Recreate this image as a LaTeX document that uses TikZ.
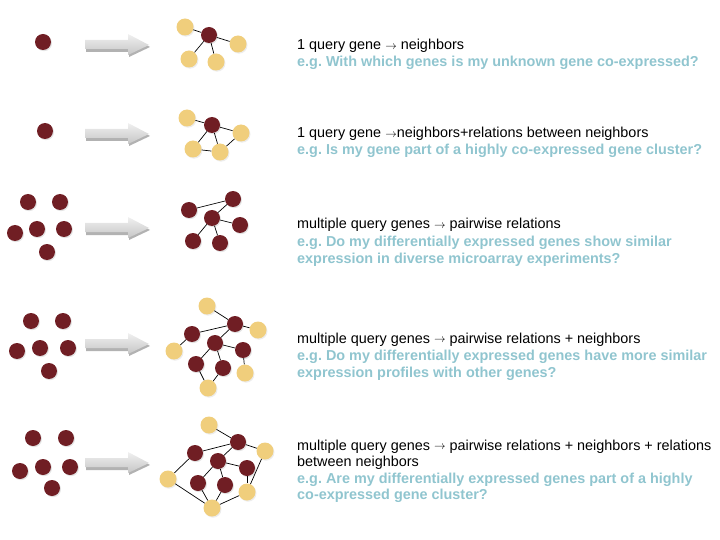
\documentclass[tikz,border=0pt]{standalone}
\usepackage{fontspec}
\setmainfont{Liberation Sans}
\usepackage{tikz}
\usetikzlibrary{
	arrows.meta,
	calc,
	shadows,
	positioning
}
\definecolor{GeneRed}{RGB}{112,30,36}
\definecolor{GeneYellow}{RGB}{240,206,124}
\definecolor{QBlue}{RGB}{144,197,207}

\tikzset{
	query/.style={circle, fill=GeneRed, minimum size=16pt, inner sep=0pt,
		drop shadow={opacity=0.22, shadow xshift=1pt, shadow yshift=-1.2pt}},
	nbr/.style={circle, fill=GeneYellow, minimum size=17pt, inner sep=0pt,
		drop shadow={opacity=0.15, shadow xshift=1pt, shadow yshift=-1.2pt}},
	link/.style={black, line width=0.7pt},
	mainline/.style={anchor=base west, inner sep=0pt, font=\fontsize{14.4}{17}\selectfont},
	example/.style={mainline, text=QBlue, font=\fontsize{14.4}{17}\selectfont\bfseries}
}
\newcommand{\smallto}{\raisebox{0.1ex}{\scalebox{0.8}{$\rightarrow$}}}
\frenchspacing

\begin{document}
\begin{tikzpicture}[x=1pt, y=-1pt]
	\useasboundingbox (0,0) rectangle (720,540);
	
	% grey arrows
	\foreach \y in {45,134,228,344,463} {
		\fill[gray!60] (86,{\y-3}) -- (129,{\y-3}) -- (129,{\y-9}) -- (150,{\y+2}) -- (129,{\y+12}) -- (129,{\y+7}) -- (86,{\y+7}) -- cycle;
		\shade[top color=gray!12, bottom color=gray!45] (85,{\y-5}) -- (128,{\y-5}) -- (128,{\y-11}) -- (149,{\y}) -- (128,{\y+10}) -- (128,{\y+4}) -- (85,{\y+4}) -- cycle;
	}
	
	% row 1
	\node[query] (a0) at (43,42) {};
	\node[query] (a1) at (209,35) {};
	\node[nbr] (a2) at (185,27) {};
	\node[nbr] (a3) at (238,44) {};
	\node[nbr] (a4) at (189,59) {};
	\node[nbr] (a5) at (216,62) {};
	\foreach \n in {a2,a3,a4,a5} \draw[link] (a1) -- (\n);
	
	% row 2
	\node[query] (b0) at (45,131) {};
	\node[query] (b1) at (212,125) {};
	\node[nbr] (b2) at (187,118) {};
	\node[nbr] (b3) at (241,133) {};
	\node[nbr] (b4) at (193,149) {};
	\node[nbr] (b5) at (220,152) {};
	\foreach \n in {b2,b3,b4,b5} \draw[link] (b1) -- (\n);
	\draw[link] (b3) -- (b5);
	\draw[link] (b4) -- (b5);
	
	% row 3
	\node[query] (c01) at (28,202) {};
	\node[query] (c02) at (60,202) {};
	\node[query] (c03) at (15,233) {};
	\node[query] (c04) at (37,229) {};
	\node[query] (c05) at (64,229) {};
	\node[query] (c06) at (47,252) {};
	\node[query] (c1) at (189,210) {};
	\node[query] (c2) at (233,199) {};
	\node[query] (c3) at (212,218) {};
	\node[query] (c4) at (240,225) {};
	\node[query] (c5) at (193,241) {};
	\node[query] (c6) at (220,243) {};
	\draw[link] (c1) -- (c2);
	\draw[link] (c2) -- (c3);
	\foreach \n in {c4,c5,c6} \draw[link] (c3) -- (\n);
	
	% row 4
	\node[query] (d01) at (31,321) {};
	\node[query] (d02) at (63,321) {};
	\node[query] (d03) at (17,351) {};
	\node[query] (d04) at (40,348) {};
	\node[query] (d05) at (68,348) {};
	\node[query] (d06) at (49,371) {};
	\node[nbr] (d7) at (207,306) {};
	\node[query] (d1) at (235,324) {};
	\node[nbr] (d8) at (258,330) {};
	\node[query] (d2) at (192,334) {};
	\node[query] (d3) at (215,343) {};
	\node[nbr] (d9) at (174,351) {};
	\node[query] (d4) at (243,350) {};
	\node[query] (d5) at (196,364) {};
	\node[query] (d6) at (223,368) {};
	\node[nbr] (d10) at (245,373) {};
	\node[nbr] (d11) at (208,388) {};
	\draw[link] (d7) -- (d1);
	\draw[link] (d1) -- (d8);
	\draw[link] (d2) -- (d1);
	\draw[link] (d1) -- (d3);
	\draw[link] (d2) -- (d9);
	\foreach \n in {d4,d5,d6} \draw[link] (d3) -- (\n);
	\draw[link] (d4) -- (d10);
	\draw[link] (d5) -- (d11);
	\draw[link] (d6) -- (d11);
	
	% row 5
	\node[query] (e01) at (33,438) {};
	\node[query] (e02) at (66,438) {};
	\node[query] (e03) at (20,471) {};
	\node[query] (e04) at (43,467) {};
	\node[query] (e05) at (70,467) {};
	\node[query] (e06) at (52,488) {};
	\node[nbr] (e7) at (209,425) {};
	\node[query] (e1) at (238,442) {};
	\node[nbr] (e8) at (265,451) {};
	\node[query] (e2) at (195,453) {};
	\node[query] (e3) at (218,461) {};
	\node[nbr] (e9) at (168,479) {};
	\node[query] (e4) at (247,468) {};
	\node[query] (e5) at (198,483) {};
	\node[query] (e6) at (225,485) {};
	\node[nbr] (e10) at (247,492) {};
	\node[nbr] (e11) at (212,508) {};
	\draw[link] (e7) -- (e1);
	\draw[link] (e1) -- (e8);
	\draw[link] (e2) -- (e1);
	\draw[link] (e1) -- (e3);
	\draw[link] (e2) -- (e9);
	\foreach \n in {e4,e5,e6} \draw[link] (e3) -- (\n);
	\draw[link] (e4) -- (e10);
	\draw[link] (e5) -- (e11);
	\draw[link] (e6) -- (e11);
	% neighbor relations
	\draw[link] (e8) -- (e10);
	\draw[link] (e9) -- (e11);
	\draw[link] (e11) -- (e10);
	
	% texts
	\node[mainline] (t1a) at (297,50) {1 query gene \smallto\ neighbors};
	\node[example] (t1b) at (297,67) {e.g. With which genes is my unknown gene co-expressed?};
	\node[mainline] (t2a) at (297,138) {1 query gene \smallto neighbors+relations between neighbors};
	\node[example] (t2b) at (297,155) {e.g. Is my gene part of a highly co-expressed gene cluster?};
	\node[mainline] (t3a) at (297,229) {multiple query genes \smallto\ pairwise relations};
	\node[example] (t3b) at (297,246) {e.g. Do my differentially expressed genes show similar};
	\node[example] (t3c) at (297,263) {expression in diverse microarray experiments?};
	\node[mainline] (t4a) at (297,343) {multiple query genes \smallto\ pairwise relations + neighbors};
	\node[example] (t4b) at (297,360) {e.g. Do my differentially expressed genes have more similar};
	\node[example] (t4c) at (297,377) {expression profiles with other genes?};
	\node[mainline] (t5a) at (297,450) {multiple query genes \smallto\ pairwise relations + neighbors + relations};
	\node[mainline] (t5b) at (297,466) {between neighbors};
	\node[example] (t5c) at (297,483) {e.g. Are my differentially expressed genes part of a highly};
	\node[example] (t5d) at (297,499) {co-expressed gene cluster?};
\end{tikzpicture}
\end{document}
